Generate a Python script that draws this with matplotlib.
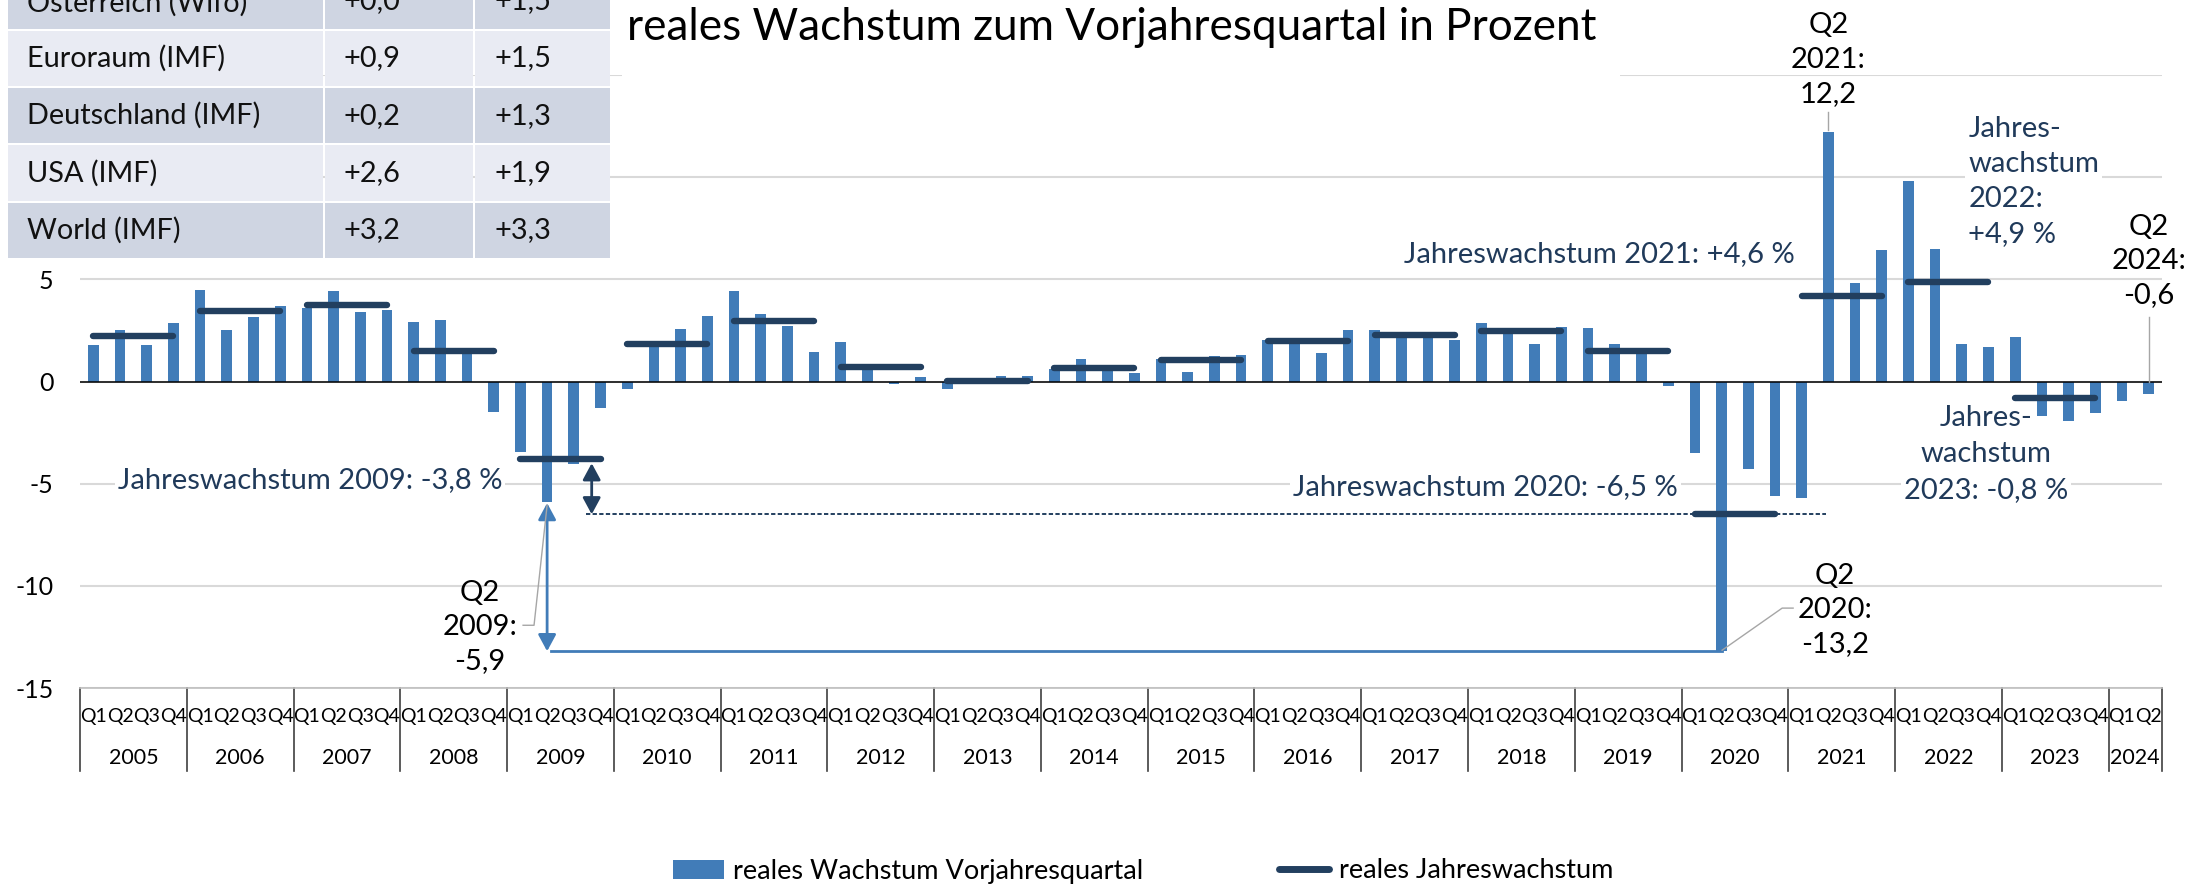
import matplotlib
matplotlib.use('Agg')
import matplotlib.pyplot as plt
import matplotlib.transforms as mtransforms
from matplotlib.patches import Rectangle, Patch
from matplotlib.lines import Line2D

plt.rcParams['font.family'] = ['Lato', 'DejaVu Sans']

# ---------------- data ----------------
years = [str(y) for y in range(2005, 2025)]
quarter_names = ['Q1', 'Q2', 'Q3', 'Q4']
quarter_growth = [
    1.8, 2.5, 1.8, 2.85,      # 2005
    4.5, 2.5, 3.15, 3.7,      # 2006
    3.6, 4.45, 3.4, 3.5,      # 2007
    2.9, 3.0, 1.65, -1.5,     # 2008
    -3.45, -5.9, -4.05, -1.3, # 2009
    -0.35, 1.75, 2.55, 3.2,   # 2010
    4.45, 3.3, 2.7, 1.45,     # 2011
    1.95, 0.6, -0.1, 0.2,     # 2012
    -0.35, 0.05, 0.25, 0.25,  # 2013
    0.6, 1.1, 0.55, 0.4,      # 2014
    1.1, 0.45, 1.25, 1.3,     # 2015
    2.05, 1.95, 1.4, 2.5,     # 2016
    2.5, 2.25, 2.25, 2.05,    # 2017
    2.85, 2.4, 1.85, 2.65,    # 2018
    2.6, 1.85, 1.65, -0.2,    # 2019
    -3.5, -13.2, -4.3, -5.6,  # 2020
    -5.7, 12.2, 4.8, 6.45,    # 2021
    9.8, 6.5, 1.85, 1.7,      # 2022
    2.2, -1.7, -1.95, -1.55,  # 2023
    -0.95, -0.6,              # 2024
]
annual_growth = [2.25, 3.45, 3.75, 1.48, -3.8, 1.85, 2.95, 0.69, 0.03, 0.67,
                 1.03, 2.0, 2.26, 2.46, 1.48, -6.5, 4.2, 4.85, -0.8]

table_names = ['Österreich (Wifo)', 'Euroraum (IMF)', 'Deutschland (IMF)', 'USA (IMF)', 'World (IMF)']
table_col1 = ['+0,0', '+0,9', '+0,2', '+2,6', '+3,2']
table_col2 = ['+1,5', '+1,5', '+1,3', '+1,9', '+3,3']

y_ticks = [-15, -10, -5, 0, 5, 10, 15]
y_ticklabels = ['-15', '-10', '-5', '0', '5', '', '']   # 10 and 15 are hidden by the table

BLUE = '#417CB8'
NAVY = '#223F5F'
TXTNAVY = '#203A5A'
GRID = '#D9D9D9'
LEADER = '#A6A6A6'
FS = 21

# ---------------- figure ----------------
W, H = 2190, 885
fig = plt.figure(figsize=(W / 100, H / 100), dpi=100)
pix = mtransforms.Affine2D().scale(1 / W, -1 / H).translate(0, 1) + fig.transFigure

def fx(p):
    return p / W

def fy(p):
    return 1 - p / H

ax = fig.add_axes([fx(80), fy(688), fx(2162) - fx(80), fy(75) - fy(688)])

n = len(quarter_growth)
xq = list(range(n))
q_labels = [quarter_names[i % 4] for i in range(n)]

ax.bar(xq, quarter_growth, width=0.4, color=BLUE, zorder=2)
for k, v in enumerate(annual_growth):
    ax.plot([4 * k, 4 * k + 3], [v, v], color=NAVY, lw=4.6,
            solid_capstyle='round', zorder=4)

ax.set_xlim(-0.5, n - 0.5)
ax.set_ylim(-15, 15)
ax.set_yticks(y_ticks)
ax.set_yticklabels(y_ticklabels)
ax.tick_params(axis='y', length=0, pad=19, labelsize=18)
ax.set_xticks([])
ax.yaxis.grid(True, color=GRID, lw=1.5)
ax.set_axisbelow(True)
ax.axhline(0, color='black', lw=1.1, zorder=3)
for s in ['top', 'left', 'right']:
    ax.spines[s].set_visible(False)
ax.spines['bottom'].set_color('#BFBFBF')
ax.spines['bottom'].set_linewidth(1.2)

# category axis (quarters and years)
trans = ax.get_xaxis_transform()
for i, lab in enumerate(q_labels):
    ax.text(i, -0.047, lab, transform=trans, ha='center', va='center',
            fontsize=14, clip_on=False)
bounds = [-0.5 + 4 * k for k in range(len(years))] + [n - 0.5]
for b in bounds:
    ax.plot([b, b], [0, -0.135], transform=trans, color='#404040', lw=1.2,
            clip_on=False)
for k, yr in enumerate(years):
    left = bounds[k]
    right = bounds[k + 1]
    ax.text((left + right) / 2, -0.114, yr, transform=trans, ha='center',
            va='center', fontsize=15.5, clip_on=False)

# comparison lines / arrows
i09 = years.index('2009') * 4 + 1
i20 = years.index('2020') * 4 + 1
v09 = quarter_growth[i09]
v20 = quarter_growth[i20]
a09 = annual_growth[years.index('2009')]
a20 = annual_growth[years.index('2020')]

ax.plot([i09 + 0.15, i20], [v20, v20], color=BLUE, lw=2.0, zorder=3)
ax.annotate('', xy=(i09, v20), xytext=(i09, v09 - 0.05),
            arrowprops=dict(arrowstyle='<|-|>,head_length=0.5,head_width=0.27',
                            color=BLUE, lw=2.0, shrinkA=0, shrinkB=0,
                            mutation_scale=20), zorder=5)
ax.plot([i09 + 1.45, i20 + 3.9], [a20, a20], color=NAVY, lw=1.4,
        ls=(0, (2.2, 1.2)), zorder=3)
ax.annotate('', xy=(i09 + 1.67, a20), xytext=(i09 + 1.67, a09 - 0.2),
            arrowprops=dict(arrowstyle='<|-|>,head_length=0.5,head_width=0.27',
                            color=NAVY, lw=2.0, shrinkA=0, shrinkB=0,
                            mutation_scale=20), zorder=5)

# annotations
box = dict(facecolor='white', edgecolor='none', pad=2)
i21 = years.index('2021') * 4 + 1
i24 = years.index('2024') * 4 + 1

ax.text(i21, 15.75, 'Q2\n2021:\n12,2', ha='center', va='center', fontsize=FS,
        linespacing=1.42, clip_on=False, zorder=6)
ax.plot([i21, i21], [quarter_growth[i21] + 0.1, 13.2], color=LEADER, lw=1.0,
        clip_on=False, zorder=6)

ax.text(70.24, 9.78, 'Jahres-\nwachstum\n2022:\n+4,9 %', ha='left', va='center',
        fontsize=FS, color=TXTNAVY, linespacing=1.42, bbox=box, zorder=6)

ax.text(i24, 5.9, 'Q2\n2024:\n-0,6', ha='center', va='center', fontsize=FS,
        linespacing=1.4, clip_on=False, zorder=6)
ax.plot([i24, i24], [3.16, 0], color=LEADER, lw=1.0, zorder=6)

ax.text(63.76, 6.24, 'Jahreswachstum 2021: +4,6 %', ha='right', va='center',
        fontsize=FS, color=TXTNAVY, bbox=box, zorder=6)

# drawn below the bars, so its white box only hides the gridline
ax.text(70.9, -3.55, 'Jahres-\nwachstum\n2023: -0,8 %', ha='center', va='center',
        fontsize=FS, color=TXTNAVY, linespacing=1.5, bbox=box, zorder=1.5)

ax.text(15.31, -4.82, 'Jahreswachstum 2009: -3,8 %', ha='right', va='center',
        fontsize=FS, color=TXTNAVY, bbox=box, zorder=6)

ax.text(59.37, -5.16, 'Jahreswachstum 2020: -6,5 %', ha='right', va='center',
        fontsize=FS, color=TXTNAVY, bbox=box, zorder=6)

ax.text(14.49, -12.0, 'Q2\n2009:\n-5,9', ha='center', va='center', fontsize=FS,
        linespacing=1.38, zorder=6)
ax.plot([16.1, 16.51, 17.0], [-11.93, -11.93, v09 - 0.15], color=LEADER, lw=1.0,
        zorder=6)

ax.text(65.25, -11.18, 'Q2\n2020:\n-13,2', ha='center', va='center', fontsize=FS,
        linespacing=1.38, zorder=6)
ax.plot([63.68, 63.27, 61.02], [-11.09, -11.09, v20 + 0.05], color=LEADER, lw=1.0,
        zorder=6)

# title (white box hides the top gridline behind it)
fig.add_artist(Rectangle((622, 0), 1620 - 622, 84, transform=pix,
                         facecolor='white', edgecolor='none', zorder=4))
fig.text(fx(627), fy(28), 'reales Wachstum zum Vorjahresquartal in Prozent',
         ha='left', va='center', fontsize=31.8, color='black', zorder=5)

# table (top left)
col_x = [(8, 323), (325, 473), (475, 610)]
text_x = [27, 343, 494]
row_h = 57.3
row_bottom_last = 258
for r, (name, c1, c2) in enumerate(zip(table_names, table_col1, table_col2)):
    top = row_bottom_last - (len(table_names) - r) * row_h + 2
    bottom = row_bottom_last - (len(table_names) - r - 1) * row_h
    color = '#CFD5E2' if r % 2 == 0 else '#E9EBF3'
    for (x0, x1) in col_x:
        fig.add_artist(Rectangle((x0, top), x1 - x0, bottom - top, transform=pix,
                                 facecolor=color, edgecolor='none', zorder=5))
    yc = (top + bottom) / 2
    for tx, s in zip(text_x, [name, c1, c2]):
        fig.text(fx(tx), fy(yc), s, ha='left', va='center', fontsize=20.8,
                 color='#111111', zorder=6)

# legend
handles = [Patch(facecolor=BLUE, edgecolor='none', label='reales Wachstum Vorjahresquartal'),
           Line2D([], [], color=NAVY, lw=5, solid_capstyle='round',
                  label='reales Jahreswachstum')]
fig.legend(handles=handles, loc='center', bbox_to_anchor=(fx(1143), fy(871)),
           ncol=2, frameon=False, fontsize=19.5, handlelength=1.86,
           handletextpad=0.35, columnspacing=5.0, borderpad=0, borderaxespad=0)

fig.savefig('out.png', dpi=100)
